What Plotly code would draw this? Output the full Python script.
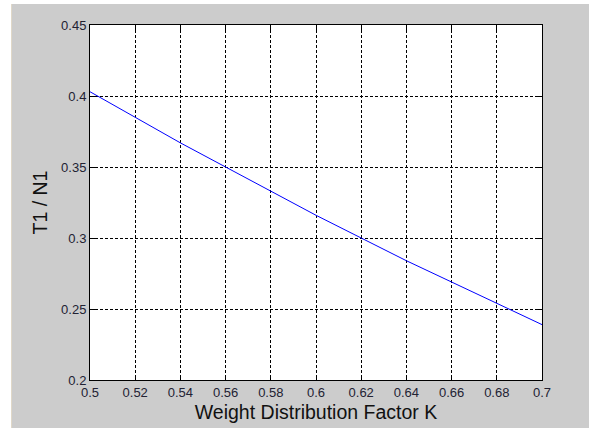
import plotly.graph_objects as go

k_values = [0.50, 0.52, 0.54, 0.56, 0.58, 0.60, 0.62, 0.64, 0.66, 0.68, 0.70]
t1_n1 = [0.403, 0.385, 0.367, 0.350, 0.333, 0.316, 0.300, 0.284, 0.269, 0.254, 0.239]

x_ticks = [0.5, 0.52, 0.54, 0.56, 0.58, 0.6, 0.62, 0.64, 0.66, 0.68, 0.7]
x_ticklabels = ["0.5", "0.52", "0.54", "0.56", "0.58", "0.6", "0.62", "0.64", "0.66", "0.68", "0.7"]
y_ticks = [0.2, 0.25, 0.3, 0.35, 0.4, 0.45]
y_ticklabels = ["0.2", "0.25", "0.3", "0.35", "0.4", "0.45"]

fig = go.Figure()
fig.add_trace(go.Scatter(x=k_values, y=t1_n1, mode="lines",
                         line=dict(color="#0000ff", width=1), showlegend=False))

L, R, T, B = 90, 47, 25, 50
W, H = 589, 430
pw, ph = W - L - R, H - T - B


def px_x(p):
    return (p - L) / pw


def px_y(p):
    return (H - B - p) / ph


# thin white page border around the grey MATLAB figure
white = dict(fillcolor="#ffffff", line=dict(width=0))
fig.add_shape(type="rect", xref="paper", yref="paper", layer="above",
              x0=px_x(-2), x1=px_x(11), y0=px_y(432), y1=px_y(-2), **white)
fig.add_shape(type="rect", xref="paper", yref="paper", layer="above",
              x0=px_x(-2), x1=px_x(591), y0=px_y(4), y1=px_y(-2), **white)
fig.add_shape(type="rect", xref="paper", yref="paper", layer="above",
              x0=px_x(-2), x1=px_x(591), y0=px_y(432), y1=px_y(428), **white)
fig.add_shape(type="line", xref="paper", yref="paper", layer="above",
              x0=px_x(11.5), x1=px_x(11.5), y0=px_y(428), y1=px_y(4),
              line=dict(color="#e0d8c8", width=1))

font_fam = "Liberation Sans, Arial"
axis_common = dict(showline=True, linecolor="#000000", linewidth=1, mirror="ticks",
                   ticks="inside", ticklen=5, tickcolor="#000000",
                   showgrid=True, gridcolor="#000000", gridwidth=1, griddash="3px,2px",
                   zeroline=False, automargin=False,
                   tickfont=dict(family=font_fam, size=13, color="#222233"))

fig.update_xaxes(range=[0.5, 0.7], tickvals=x_ticks, ticktext=x_ticklabels,
                 title=dict(text="Weight Distribution Factor K", standoff=6,
                            font=dict(family=font_fam, size=19.5, color="#111111")),
                 **axis_common)
fig.update_yaxes(range=[0.2, 0.45], tickvals=y_ticks, ticktext=y_ticklabels,
                 title=dict(text="T1 / N1", standoff=8,
                            font=dict(family=font_fam, size=19.5, color="#111111")),
                 **axis_common)

fig.update_layout(width=W, height=H, margin=dict(l=L, r=R, t=T, b=B),
                  paper_bgcolor="#cccccc", plot_bgcolor="#ffffff")

fig.write_html("out.html", config={"displayModeBar": False},
               post_script="document.body.style.margin='0';")
